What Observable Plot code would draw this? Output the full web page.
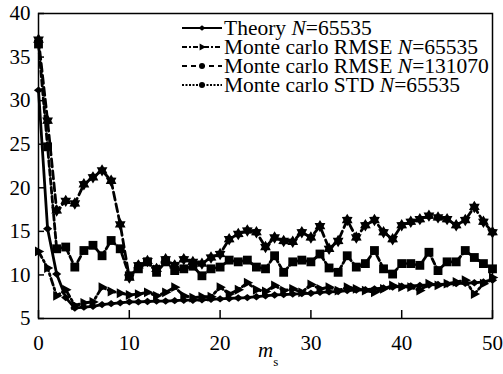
<!DOCTYPE html>
<html>
<head>
<meta charset="utf-8">
<script src="https://cdn.jsdelivr.net/npm/d3@7"></script>
<script src="https://cdn.jsdelivr.net/npm/@observablehq/plot@0.6"></script>
<style>
  body { margin: 0; background: #fff; }
  svg { display: block; }
</style>
</head>
<body>
<div id="chart"></div>
<script>
// Number of sub-blocks m_s
const ms = [0,1,2,3,4,5,6,7,8,9,10,11,12,13,14,15,16,17,18,19,20,21,22,23,24,25,
            26,27,28,29,30,31,32,33,34,35,36,37,38,39,40,41,42,43,44,45,46,47,48,49,50];

// Theory, N = 65535
const theory = [31.2,15.3,10.1,7.4,6.2,6.3,6.4,6.6,6.7,6.8,6.9,6.9,6.95,7.0,7.0,7.05,7.1,7.1,7.15,7.2,
                7.25,7.3,7.35,7.4,7.5,7.6,7.7,7.75,7.8,7.85,7.9,8.0,8.05,8.1,8.2,8.25,8.3,8.4,8.5,8.6,
                8.7,8.75,8.8,8.85,8.9,8.95,9.0,9.05,9.1,9.2,9.4];

// Monte carlo RMSE, N = 65535
const rmse65535 = [12.7,10.8,7.6,8.3,6.5,6.8,6.9,8.6,8.1,7.9,7.7,7.8,8.0,7.6,8.0,8.6,7.6,7.4,7.5,7.5,
                   8.6,7.8,8.3,9.1,8.3,8.1,8.8,8.2,8.4,8.0,8.9,8.4,8.6,8.2,8.6,8.4,8.2,8.0,8.4,8.8,
                   8.6,8.6,8.2,9.0,8.8,9.0,9.2,9.4,7.8,9.0,9.7];

// Monte carlo RMSE, N = 131070
const rmse131070 = [37.0,27.7,17.4,18.5,18.2,20.4,21.2,22.0,20.8,15.8,9.7,11.1,11.6,10.7,11.8,11.1,11.8,11.5,11.3,12.0,
                    12.4,14.1,14.7,15.1,14.9,13.2,14.3,13.9,13.8,14.9,14.3,15.6,13.0,13.9,16.3,14.3,15.7,16.3,14.9,14.1,
                    15.7,16.1,16.4,16.8,16.6,16.4,15.7,16.3,17.8,16.1,14.9];

// Monte carlo STD, N = 65535
const std65535 = [36.5,24.7,13.0,13.2,10.9,12.8,13.4,12.2,13.95,13.0,9.9,10.7,11.5,10.3,11.5,10.5,10.7,11.0,9.9,10.7,
                  10.9,11.7,11.5,11.7,10.9,10.7,12.2,10.3,11.5,11.7,11.5,12.4,10.8,10.3,12.2,10.9,11.3,12.8,10.7,10.1,
                  11.3,11.3,11.1,12.6,10.5,11.5,11.5,12.8,12.0,11.3,10.7];

const xTicks = [0,10,20,30,40,50];
const yTicks = [5,10,15,20,25,30,35,40];

const SERIF = "'Liberation Serif', 'Times New Roman', serif";

// Marker shapes
const diamond = {
  draw(ctx, size) {
    const r = Math.sqrt(size / Math.PI);
    ctx.moveTo(0, -r * 0.8); ctx.lineTo(r, 0); ctx.lineTo(0, r * 0.8); ctx.lineTo(-r, 0); ctx.closePath();
  }
};
const triangleRight = {
  draw(ctx, size) {
    const r = Math.sqrt(size / Math.PI);
    ctx.moveTo(r, 0); ctx.lineTo(-r * 0.6, r * 0.85); ctx.lineTo(-r * 0.6, -r * 0.85); ctx.closePath();
  }
};
const hexagram = {
  draw(ctx, size) {
    const R = Math.sqrt(size / Math.PI), r = R * 0.6;
    for (let k = 0; k < 12; k++) {
      const a = -Math.PI / 2 + k * Math.PI / 6, d = k % 2 ? r : R;
      const px = d * Math.cos(a), py = d * Math.sin(a);
      k ? ctx.lineTo(px, py) : ctx.moveTo(px, py);
    }
    ctx.closePath();
  }
};
const square = {
  draw(ctx, size) {
    const h = Math.sqrt(size / Math.PI) * 0.85;
    ctx.rect(-h, -h, 2 * h, 2 * h);
  }
};

const series = [
  {name: "Theory", n: "65535", values: theory, symbol: diamond, r: 4.6, dash: null, legendDash: null, legendSymbol: diamond, legendR: 3.5},
  {name: "Monte carlo RMSE", n: "65535", values: rmse65535, symbol: triangleRight, r: 5.8, dash: "7,3,2,3", legendDash: "5,2,2,2", legendSymbol: triangleRight, legendR: 4},
  {name: "Monte carlo RMSE", n: "131070", values: rmse131070, symbol: hexagram, r: 6.2, dash: "8,4", legendDash: "5,4", legendSymbol: null, legendR: 3},
  {name: "Monte carlo STD", n: "65535", values: std65535, symbol: square, r: 5.2, dash: "6,3", legendDash: "2,1.5", legendSymbol: null, legendR: 3}
];

const marks = [];
series.forEach((s) => {
  const rows = ms.map((m, j) => ({ms: m, value: s.values[j]}));
  marks.push(Plot.line(rows, {x: "ms", y: "value", stroke: "black", strokeWidth: 2.8,
                              strokeDasharray: s.dash, strokeLinejoin: "miter"}));
  marks.push(Plot.dot(rows, {x: "ms", y: "value", symbol: s.symbol, r: s.r, fill: "black", stroke: "none"}));
});

const chart = Plot.plot({
  width: 503,
  height: 374,
  marginLeft: 38,
  marginRight: 11,
  marginTop: 13,
  marginBottom: 56,
  style: {fontSize: "21px", color: "black", background: "white", overflow: "visible"},
  x: {domain: [0, 50]},
  y: {domain: [5, 40]},
  marks: [
    ...marks,
    Plot.frame({stroke: "black", strokeWidth: 1.5}),
    Plot.axisX({ticks: xTicks, tickSize: -8, tickPadding: 25, strokeWidth: 1.5, label: null, fontSize: 21}),
    Plot.axisY({ticks: yTicks, tickSize: -6, tickPadding: 14, strokeWidth: 1.5, label: null, fontSize: 21})
  ]
});
document.getElementById("chart").append(chart);

const svg = d3.select(chart);

// x-axis title: m with subscript s
const xt = svg.append("text")
  .attr("x", 258).attr("y", 357)
  .attr("text-anchor", "start")
  .attr("font-size", 21).attr("fill", "black");
xt.append("tspan").style("font-style", "italic").text("m");
xt.append("tspan").attr("dy", 9).attr("font-size", 13).text("s");

// Legend
const lg = svg.append("g").attr("font-size", 21.5);
const lx0 = 182, lx1 = 222, ly0 = 28, lstep = 19;
series.forEach((s, i) => {
  const y = ly0 + i * lstep;
  lg.append("line").attr("x1", lx0).attr("x2", lx1).attr("y1", y).attr("y2", y)
    .attr("stroke", "black").attr("stroke-width", 2)
    .attr("stroke-dasharray", s.legendDash);
  const sym = s.legendSymbol ? s.legendSymbol : d3.symbolCircle;
  lg.append("path")
    .attr("transform", `translate(${(lx0 + lx1) / 2},${y})`)
    .attr("d", d3.symbol(sym, Math.PI * s.legendR * s.legendR)())
    .attr("fill", "black");
  const t = lg.append("text").attr("x", lx1 + 2).attr("y", y).attr("dy", "0.33em")
    .attr("fill", "black").style("text-anchor", "start");
  t.append("tspan").text(s.name + " ");
  t.append("tspan").style("font-style", "italic").text("N");
  t.append("tspan").text("=" + s.n);
});

// Times-style serif face for every label in the chart
svg.selectAll("text").style("font-family", SERIF);
</script>
</body>
</html>
